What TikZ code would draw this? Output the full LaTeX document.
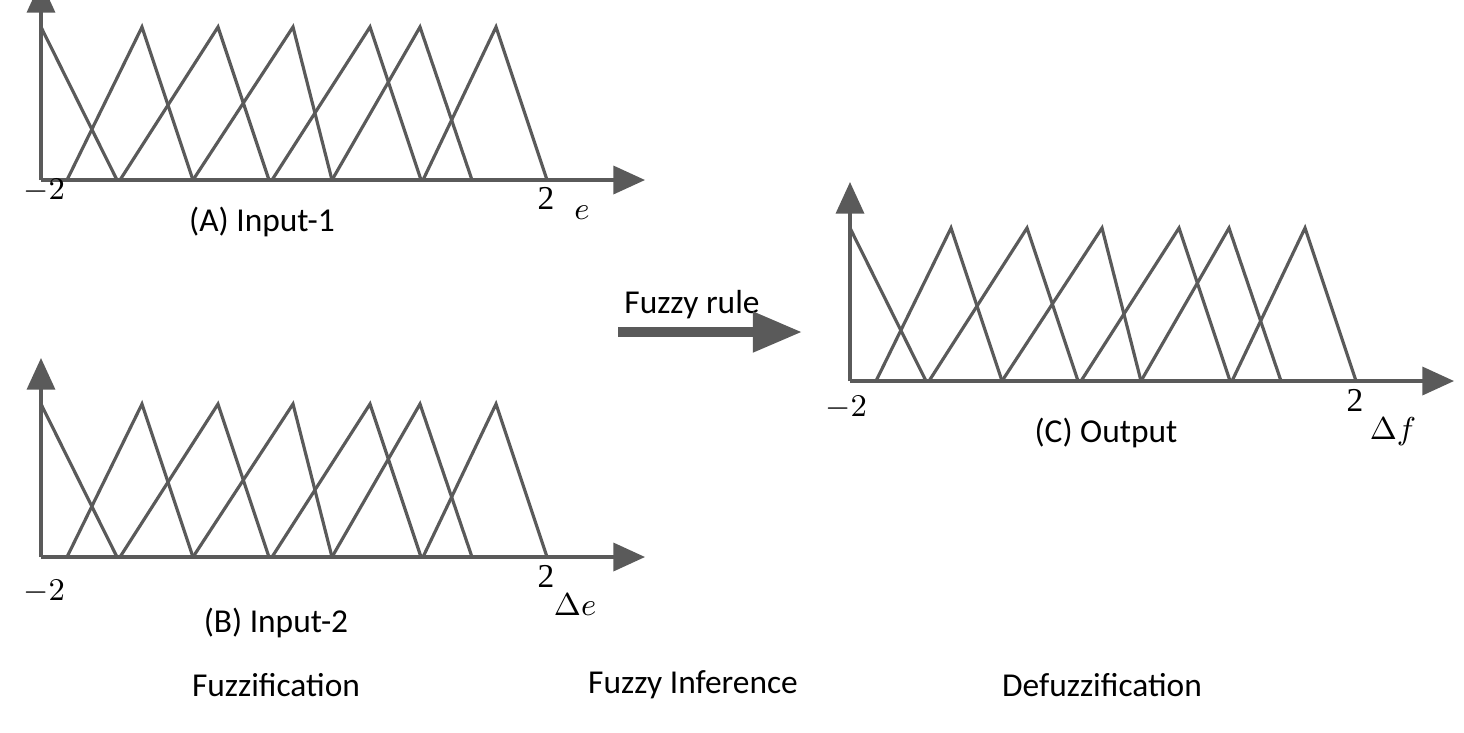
\documentclass[tikz,border=0pt]{standalone}
\usepackage{fontspec}
\setmainfont{Carlito}
\newfontfamily\numfont{Liberation Serif}
\usetikzlibrary{arrows.meta}
\definecolor{linegray}{HTML}{5A5A5A}
\tikzset{
  mf/.style={draw=linegray, line width=0.9pt, line join=miter},
  ax/.style={draw=linegray, line width=0.9pt, -{Triangle[length=9pt,width=8pt]}},
  lbl/.style={font=\fontsize{9.5}{11}\selectfont, text=black, inner sep=0pt},
  num/.style={font=\numfont\fontsize{9.5}{11}\selectfont, text=black, inner sep=0pt},
  pics/mfset/.style={code={
    \draw[ax] (41,0) -- (41,-199);
    \draw[ax] (41,0) -- (645,0);
    \draw[mf] (41,-153) -- (117,0);
    \draw[mf] (67,0) -- (142,-153) -- (193,0);
    \draw[mf] (120,0) -- (218,-153) -- (269,0);
    \draw[mf] (193,0) -- (293,-153) -- (332,0);
    \draw[mf] (272,0) -- (370,-153) -- (421,0);
    \draw[mf] (332,0) -- (420,-153) -- (472,0);
    \draw[mf] (423,0) -- (496,-153) -- (547,0);
  }}
}
\begin{document}
\begin{tikzpicture}[x=0.01cm, y=-0.01cm]
\useasboundingbox (0,0) rectangle (1464,732);
\begin{scope}
\clip (0,0) rectangle (1464,732);
\pic at (0,180) {mfset};
\end{scope}
\pic at (0,557) {mfset};
\pic at (809,381) {mfset};

% labels of input 1
\node[num] (a1) at (44,191) {$-2$};
\node[num] (a2) at (546,198) {2};
\node[num] (a3) at (582,213) {$e$};
\node[lbl] (a4) at (262,222) {(A) Input-1};
% labels of input 2
\node[num] (b1) at (44,592) {$-2$};
\node[num] (b2) at (546,576) {2};
\node[num] (b3) at (575,605) {$\Delta e$};
\node[lbl] (b4) at (276,623) {(B) Input-2};
% labels of output
\node[num] (c1) at (846,408) {$-2$};
\node[num] (c2) at (1355,400) {2};
\node[num] (c3) at (1393,432) {$\Delta f$};
\node[lbl] (c4) at (1106,433) {(C) Output};

% rule arrow
\node[lbl] (rule) at (692,305) {Fuzzy rule};
\coordinate (r1) at (618,332);
\coordinate (r2) at (802,332);
\draw[linegray, line width=2.6pt, -{Triangle[length=14pt,width=11pt]}] (r1) -- (r2);

% stage names
\node[lbl] (s1) at (276,685) {Fuzzification};
\node[lbl] (s2) at (693,685) {Fuzzy Inference};
\node[lbl] (s3) at (1102,685) {Defuzzification};
\end{tikzpicture}
\end{document}
